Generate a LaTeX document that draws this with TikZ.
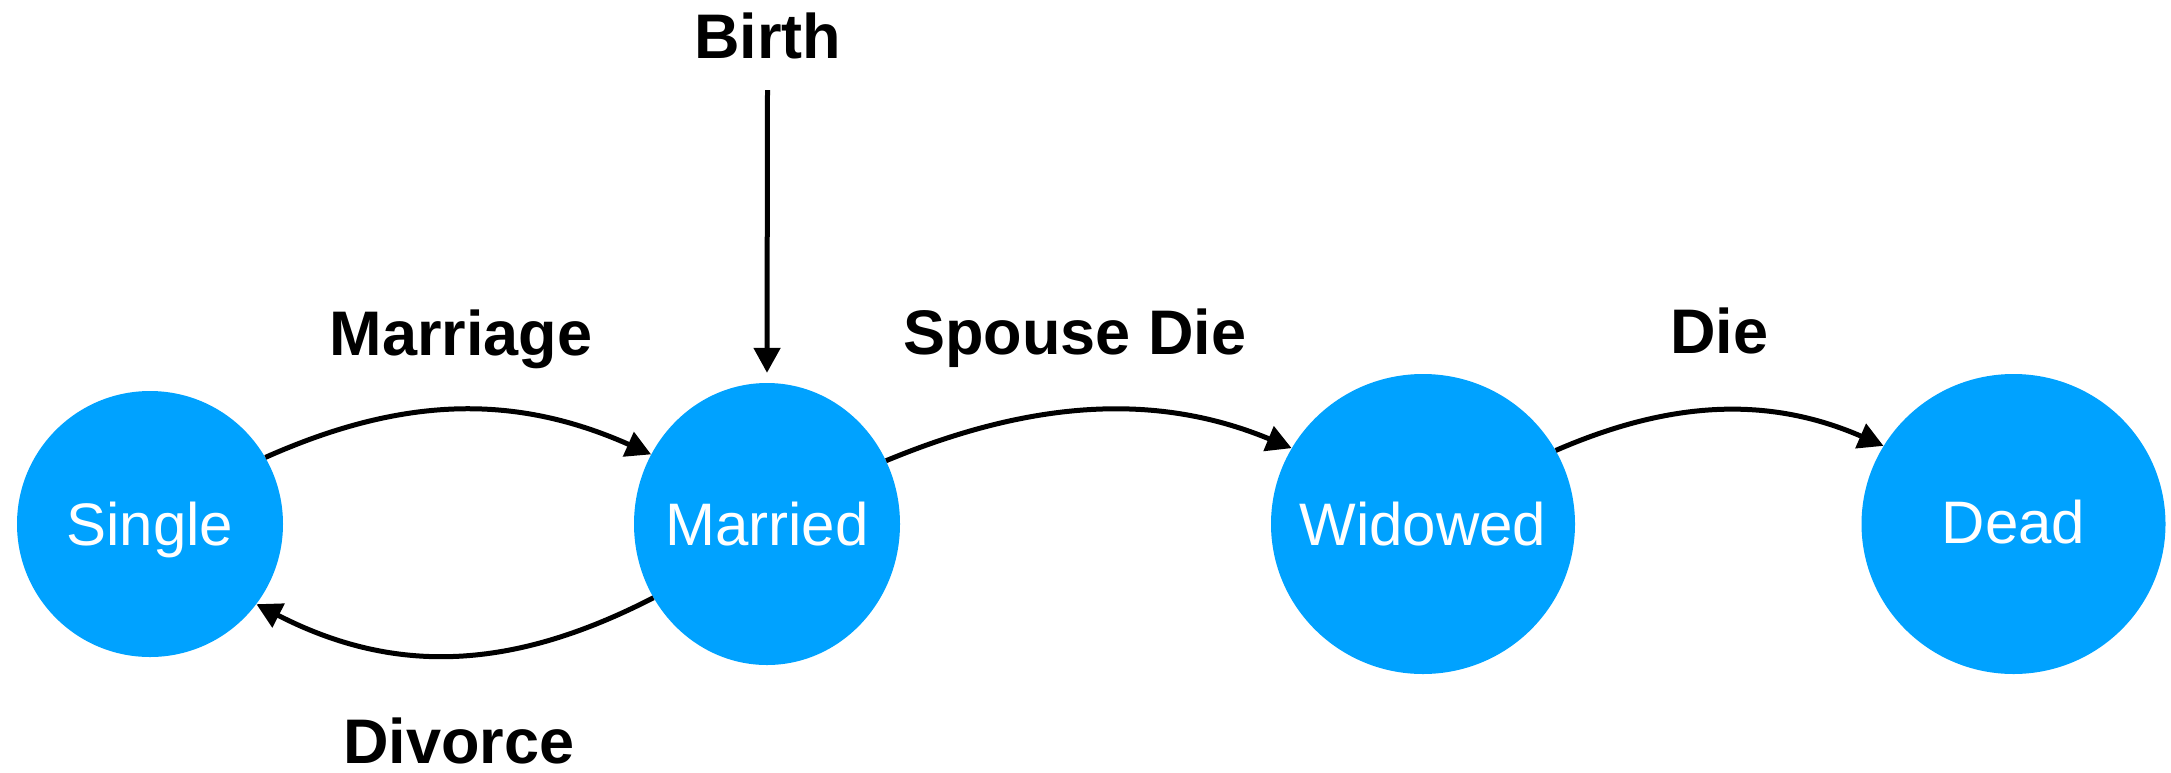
\documentclass[tikz,border=0pt]{standalone}
\usepackage{fontspec}
\setmainfont{Liberation Sans}
\usetikzlibrary{shapes.geometric,arrows.meta}
\definecolor{stateblue}{RGB}{0,162,255}
\begin{document}
\begin{tikzpicture}[x=1pt,y=-1pt,
  state/.style={ellipse, fill=stateblue, draw=none, inner sep=0pt},
  statename/.style={text=white, font=\fontsize{60}{72}\selectfont,
    text height=43pt, text depth=0pt, inner sep=0pt},
  evlabel/.style={font=\fontsize{63}{75}\selectfont\bfseries,
    anchor=base, inner sep=0pt},
  trans/.style={line width=5pt, -{Triangle[length=25pt,width=26pt]}}
]
\useasboundingbox (0,0) rectangle (2171,772);

% states
\node[state, minimum width=266pt, minimum height=266pt] (single)  at (150,524)    {};
\node[state, minimum width=266pt, minimum height=282pt] (married) at (767,524)    {};
\node[state, minimum width=304pt, minimum height=300pt] (widowed) at (1423,524)   {};
\node[state, minimum width=304pt, minimum height=300pt] (dead)    at (2013.5,524) {};

\node[statename] (singletxt)  at (single)  {Single};
\node[statename] (marriedtxt) at (married) {Married};
\node[statename] (widowedtxt) at (widowed) {Widowed};
\node[statename] (deadtxt)    at (2013.5,522) {Dead};

% event labels
\node[evlabel] (birth)    at (767.5,58) {Birth};
\node[evlabel] (marriage) at (461,355)  {Marriage};
\node[evlabel] (divorce)  at (459,763)  {Divorce};
\node[evlabel] (spouse)   at (1075,354) {Spouse Die};
\node[evlabel] (die)      at (1719,353) {Die};

% transitions
\coordinate (birthstart) at (767.5,90);
\draw[trans] (birthstart) -- ([yshift=10pt]married.north);

\draw[trans] (single.30.6) .. controls +(137,-61) and +(-137,-61) .. (married.149.3);
\draw[trans] (married.213.6) .. controls +(-140,72) and +(140,72) .. (single.-37.1);
\draw[trans] (married.28.8) .. controls +(140,-58) and +(-140,-58) .. (widowed.150.9);
\draw[trans] (widowed.29.9) .. controls +(115,-50) and +(-115,-50) .. (dead.149.6);
\end{tikzpicture}
\end{document}
